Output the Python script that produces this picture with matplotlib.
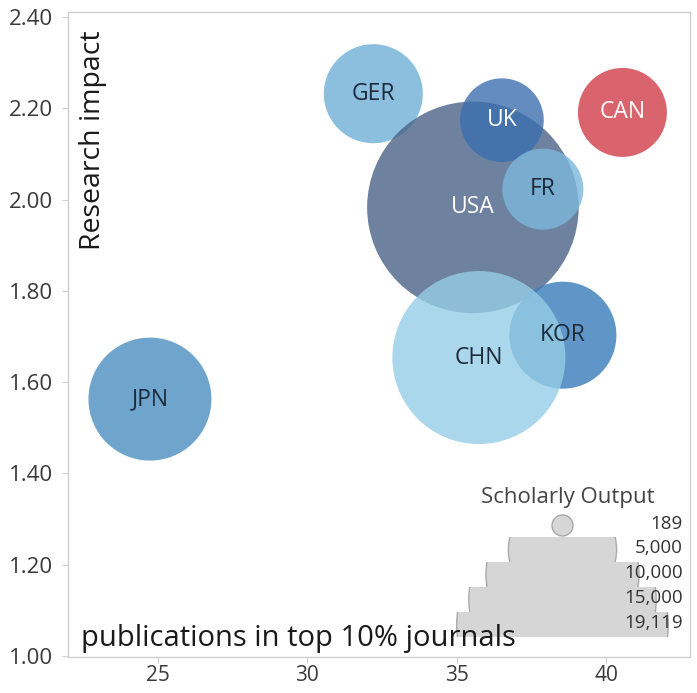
import matplotlib
matplotlib.use("Agg")
import matplotlib.pyplot as plt
from matplotlib.patches import Rectangle
import numpy as np

# Data
countries = ["GER", "JPN", "CAN", "USA", "UK", "FR", "KOR", "CHN"]
pubs_top10 = [32.21, 24.74, 40.54, 35.54, 36.51, 37.88, 38.55, 35.74]
impact = [2.232, 1.563, 2.191, 1.983, 2.174, 2.023, 1.703, 1.654]
output = [4190, 6460, 3380, 19119, 2990, 2800, 4890, 12790]

colors = ["#6faed6", "#4b8ec0", "#d13d4a", "#4a6388", "#3d6fae", "#7cb7dc", "#377cba", "#95cde6"]
label_colors = ["#1c2a3a", "#1c2a3a", "white", "white", "white", "#1c2a3a", "#1c2a3a", "#1c2a3a"]

legend_values = [189, 5000, 10000, 15000, 19119]
legend_labels = ["189", "5,000", "10,000", "15,000", "19,119"]

x_ticks = [25, 30, 35, 40]
y_ticks = [1.0, 1.2, 1.4, 1.6, 1.8, 2.0, 2.2, 2.4]

plt.rcParams['font.family'] = ['Open Sans', 'DejaVu Sans']

W, H = 697, 693
SIZE = 1.2135  # points^2 per unit of scholarly output

fig = plt.figure(figsize=(W / 100, H / 100), dpi=100)
ax = fig.add_axes([68 / W, 36 / H, 622 / W, 645 / H])

ax.scatter(pubs_top10, impact, s=np.array(output) * SIZE, c=colors,
           alpha=0.8, linewidths=0, zorder=2)
for name, x, y, lc in zip(countries, pubs_top10, impact, label_colors):
    ax.text(x, y, name, ha='center', va='center', fontsize=16.5, color=lc, zorder=3)

ax.set_xlim(22.0, 42.8)
ax.set_ylim(0.998, 2.411)
ax.set_xticks(x_ticks)
ax.set_yticks(y_ticks)
ax.set_yticklabels([f"{v:.2f}" for v in y_ticks])
for s in ax.spines.values():
    s.set_color("#cfcfcf")
    s.set_linewidth(1)
ax.tick_params(axis='both', colors="#cfcfcf", labelcolor="#3a3a3a", length=4)
ax.tick_params(axis='y', pad=7, labelsize=16)
ax.tick_params(axis='x', pad=1.5, labelsize=15)

ax.text(0.040, 0.972, "Research impact", rotation=90, ha='center', va='top',
        fontsize=20.5, color="#1a1a1a", transform=ax.transAxes)

# size legend drawn as clipped circles
lax = fig.add_axes([440 / W, 53 / H, 250 / W, 160 / H])
lax.set_xlim(0, 250)
lax.set_ylim(160, 0)
lax.axis('off')
lax.patch.set_alpha(0)
lax.text(128, 17, "Scholarly Output", ha='center', va='center', fontsize=16, color="#444444")
for i, (v, lab) in enumerate(zip(legend_values, legend_labels)):
    if i == 0:
        cy = 45
        top = None
    else:
        top = 57 + (i - 1) * 25
        cy = top + 12
    sc = lax.scatter([122], [cy], s=v * SIZE, c="#d6d6d6", edgecolors="#a9a9a9",
                     linewidths=1, zorder=2)
    if top is not None:
        sc.set_clip_path(Rectangle((0, top), 250, 24, transform=lax.transData))
    lax.text(243, cy - 1, lab, ha='right', va='center', fontsize=13.5,
             color="#333333", zorder=3)

fig.text(81 / W, (H - 646) / H, "publications in top 10% journals", ha='left',
         va='baseline', fontsize=21, color="#1a1a1a")

fig.savefig("out.png", dpi=100)
